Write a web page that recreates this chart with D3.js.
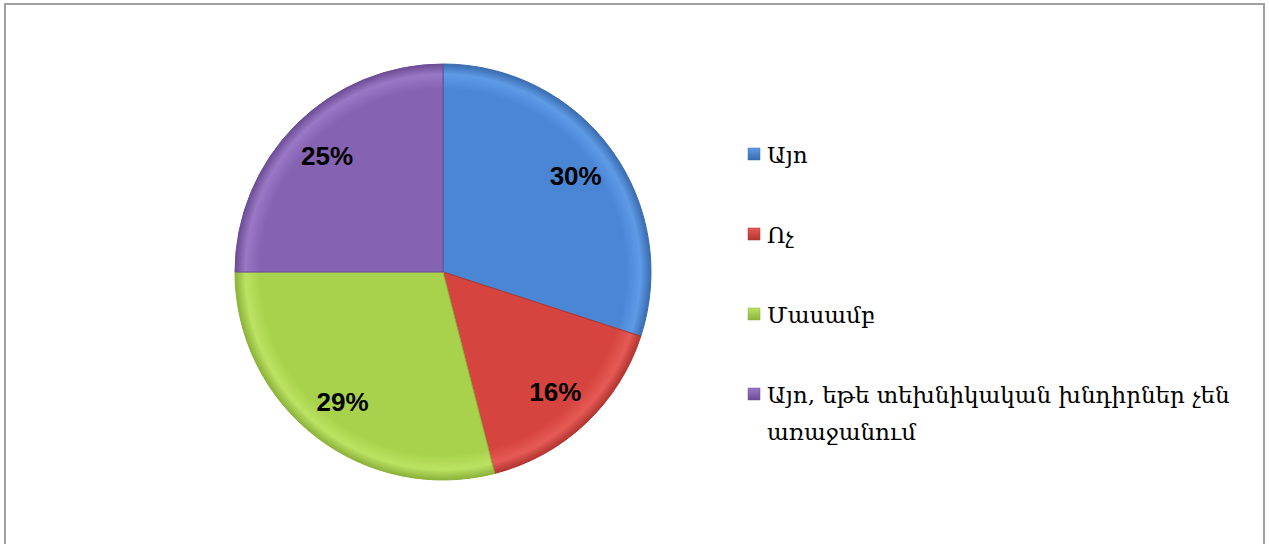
<!DOCTYPE html>
<html><head><meta charset="utf-8">
<script src="https://cdn.jsdelivr.net/npm/d3@7"></script>
<style>html,body{margin:0;padding:0;background:#fff;}svg{display:block;}</style>
</head><body>
<svg id="c" width="1269" height="544"></svg>
<script>
const categories = ["Այո", "Ոչ", "Մասամբ", "Այո, եթե տեխնիկական խնդիրներ չեն առաջանում"];
const legendLines = [["Այո"], ["Ոչ"], ["Մասամբ"], ["Այո, եթե տեխնիկական խնդիրներ չեն", "առաջանում"]];
const values = [30, 16, 29, 25];
const colors = ["#4a86d4", "#d6443f", "#a8d24c", "#8562b2"];
const lightColors = ["#5e9ae6", "#e65a55", "#bce262", "#9a78c6"];
const darkColors = ["#3a6cb0", "#b23430", "#8bb23a", "#6c4c96"];

const svg = d3.select("#c");
// frame
svg.append("path").attr("d", "M5,544 V4 H1264 V544").attr("fill", "none").attr("stroke", "#a0a0a0").attr("stroke-width", 2);

const cx = 443, cy = 272, r = 208;
const defs = svg.append("defs");
colors.forEach((c, i) => {
  const g = defs.append("radialGradient").attr("id", "g" + i).attr("gradientUnits", "userSpaceOnUse")
    .attr("cx", 0).attr("cy", 0).attr("r", r);
  g.append("stop").attr("offset", "0%").attr("stop-color", c);
  g.append("stop").attr("offset", "88%").attr("stop-color", c);
  g.append("stop").attr("offset", "95%").attr("stop-color", lightColors[i]);
  g.append("stop").attr("offset", "100%").attr("stop-color", darkColors[i]);
  const lg = defs.append("linearGradient").attr("id", "m" + i).attr("x1", 0).attr("y1", 0).attr("x2", 0).attr("y2", 1);
  lg.append("stop").attr("offset", "0%").attr("stop-color", lightColors[i]);
  lg.append("stop").attr("offset", "100%").attr("stop-color", darkColors[i]);
});

const pie = d3.pie().sort(null).value(d => d)(values);
const arc = d3.arc().innerRadius(0).outerRadius(r);
const labelArc = d3.arc().innerRadius(164).outerRadius(164);
const g = svg.append("g").attr("transform", `translate(${cx},${cy})`);
g.selectAll("path.s").data(pie).enter().append("path")
  .attr("d", arc).attr("fill", (d, i) => `url(#g${i})`)
  .attr("stroke", (d, i) => darkColors[i]).attr("stroke-width", 1);
g.selectAll("text.l").data(pie).enter().append("text")
  .attr("transform", d => `translate(${labelArc.centroid(d)})`)
  .attr("text-anchor", "middle").attr("dominant-baseline", "central")
  .attr("font-family", "Liberation Sans, Arial, sans-serif").attr("font-weight", "bold")
  .attr("font-size", 26).attr("fill", "#000")
  .text(d => d.data + "%");

// legend
const lx = 748, ly = [154, 234, 314, 394];
const lg = svg.append("g");
legendLines.forEach((lines, i) => {
  lg.append("rect").attr("x", lx).attr("y", ly[i] - 6).attr("width", 12).attr("height", 12)
    .attr("fill", `url(#m${i})`).attr("stroke", darkColors[i]).attr("stroke-width", 0.5);
  const t = lg.append("text").attr("x", lx + 19).attr("y", ly[i] + 9)
    .attr("font-family", "DejaVu Serif, serif").attr("font-size", 23).attr("fill", "#000");
  lines.forEach((ln, j) => {
    t.append("tspan").attr("x", lx + 19).attr("dy", j === 0 ? 0 : 37).text(ln);
  });
});
</script>
</body></html>
